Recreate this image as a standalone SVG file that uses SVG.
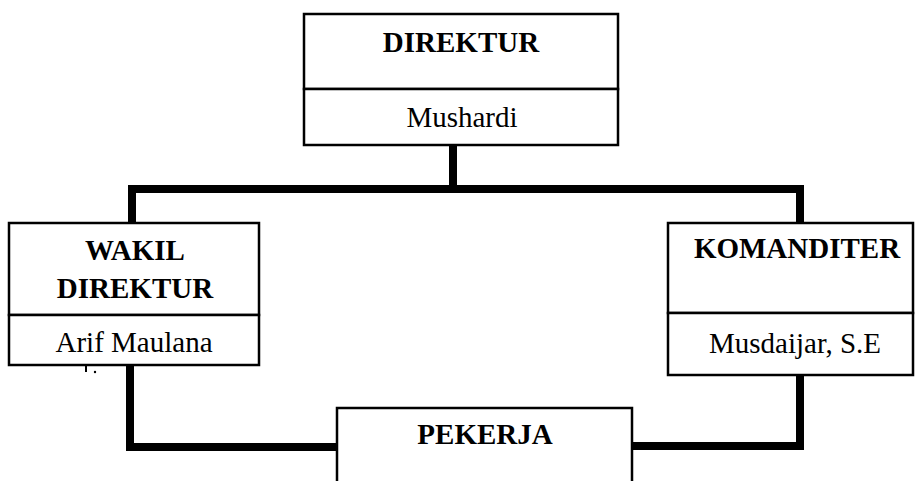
<svg xmlns="http://www.w3.org/2000/svg" width="915" height="481" viewBox="0 0 915 481">
<style>
.box{fill:#fff;stroke:#000;stroke-width:2.5}
.con{fill:none;stroke:#000;stroke-width:8;stroke-linejoin:miter}
.b{font-family:"Liberation Serif","Times New Roman",serif;font-weight:bold;font-size:29px;text-anchor:middle;fill:#000}
.r{font-family:"Liberation Serif","Times New Roman",serif;font-size:29px;text-anchor:middle;fill:#000}
</style>
<rect width="915" height="481" fill="#fff"/>
<g id="connectors">
<path class="con" d="M453,145 V189"/>
<path class="con" d="M132,223 V189 H800 V223"/>
<path class="con" d="M130,365 V447 H337"/>
<path class="con" d="M800,376 V446 H632"/>
</g>
<g id="direktur">
<rect class="box" x="304" y="14" width="314" height="75"/>
<rect class="box" x="304" y="89" width="314" height="56"/>
<text class="b" x="461" y="52">DIREKTUR</text>
<text class="r" x="462" y="127">Mushardi</text>
</g>
<g id="wakil">
<rect class="box" x="9" y="223" width="250" height="92"/>
<rect class="box" x="9" y="315" width="250" height="50"/>
<text class="b" x="135" y="260">WAKIL</text>
<text class="b" x="135" y="298">DIREKTUR</text>
<text class="r" x="134" y="352">Arif Maulana</text>
<rect x="85" y="366" width="2" height="6" fill="#000"/>
<circle cx="95" cy="372" r="1.2" fill="#000"/>
</g>
<g id="komanditer">
<rect class="box" x="668" y="223" width="245" height="90"/>
<rect class="box" x="668" y="313" width="245" height="62"/>
<text class="b" x="797" y="258">KOMANDITER</text>
<text class="r" x="795" y="353">Musdaijar, S.E</text>
</g>
<g id="pekerja">
<rect class="box" x="337" y="408" width="295" height="90"/>
<text class="b" x="485" y="444">PEKERJA</text>
</g>
</svg>
